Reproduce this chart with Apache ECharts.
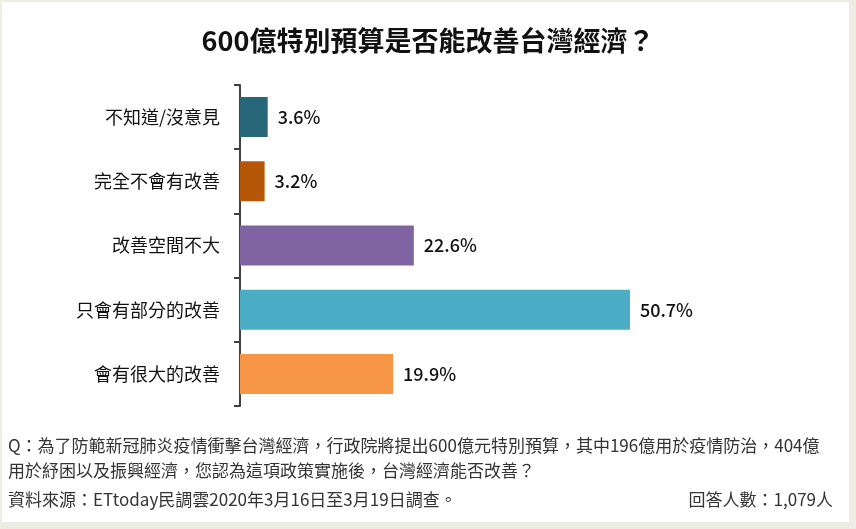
<!DOCTYPE html>
<html><head><meta charset="utf-8">
<script src="https://cdn.jsdelivr.net/npm/echarts@6/dist/echarts.min.js"></script>
<style>html,body{margin:0;padding:0;background:#EEEDE4;}#c{width:856px;height:529px;}</style>
</head><body><div id="c"></div>
<script>
const categories = ['不知道/沒意見','完全不會有改善','改善空間不大','只會有部分的改善','會有很大的改善'];
const values = [3.6, 3.2, 22.6, 50.7, 19.9];
const colors = ['#276678','#B65708','#8064A2','#4BACC6','#F79646'];
const titleText = '600億特別預算是否能改善台灣經濟？';
const noteLines = ['Q：為了防範新冠肺炎疫情衝擊台灣經濟，行政院將提出600億元特別預算，其中196億用於疫情防治，404億','用於紓困以及振興經濟，您認為這項政策實施後，台灣經濟能否改善？'];
const sourceText = '資料來源：ETtoday民調雲2020年3月16日至3月19日調查。';
const countText = '回答人數：1,079人';

const font = '"Noto Sans CJK TC","Noto Sans",sans-serif';
const chart = echarts.init(document.getElementById('c'));
chart.setOption({
  backgroundColor: 'transparent',
  animation: false,
  title: {
    text: titleText, left: 'center', top: 22,
    textStyle: {fontFamily: font, fontSize: 27, fontWeight: 'bold', color: '#111'}
  },
  graphic: [
    {type: 'rect', z: -10, shape: {x: 2, y: 2, width: 847, height: 520}, style: {fill: '#fff'}},
    {type: 'text', left: 8, top: 437, style: {text: noteLines[0], font: '17px ' + font, fill: '#333'}},
    {type: 'text', left: 8, top: 462, style: {text: noteLines[1], font: '17px ' + font, fill: '#333'}},
    {type: 'text', left: 8, top: 491, style: {text: sourceText, font: '17px ' + font, fill: '#333'}},
    {type: 'text', right: 23, top: 491, style: {text: countText, font: '17px ' + font, fill: '#333'}}
  ],
  grid: {left: 240, top: 85, width: 461.5, height: 321},
  xAxis: {type: 'value', min: 0, max: 60, show: false},
  yAxis: {
    type: 'category', data: categories, inverse: true,
    axisLine: {show: true, lineStyle: {color: '#404040', width: 2}},
    axisTick: {show: true, length: 6, lineStyle: {color: '#404040', width: 2}},
    axisLabel: {fontFamily: font, fontSize: 18, color: '#111', margin: 20}
  },
  series: [{
    type: 'bar', barWidth: 40,
    data: values.map((v, i) => ({value: v, itemStyle: {color: colors[i]}})),
    label: {show: true, position: 'right', distance: 10, formatter: p => p.value.toFixed(1) + '%',
      fontFamily: font, fontSize: 18, fontWeight: 500, color: '#111'}
  }]
});
</script></body></html>
